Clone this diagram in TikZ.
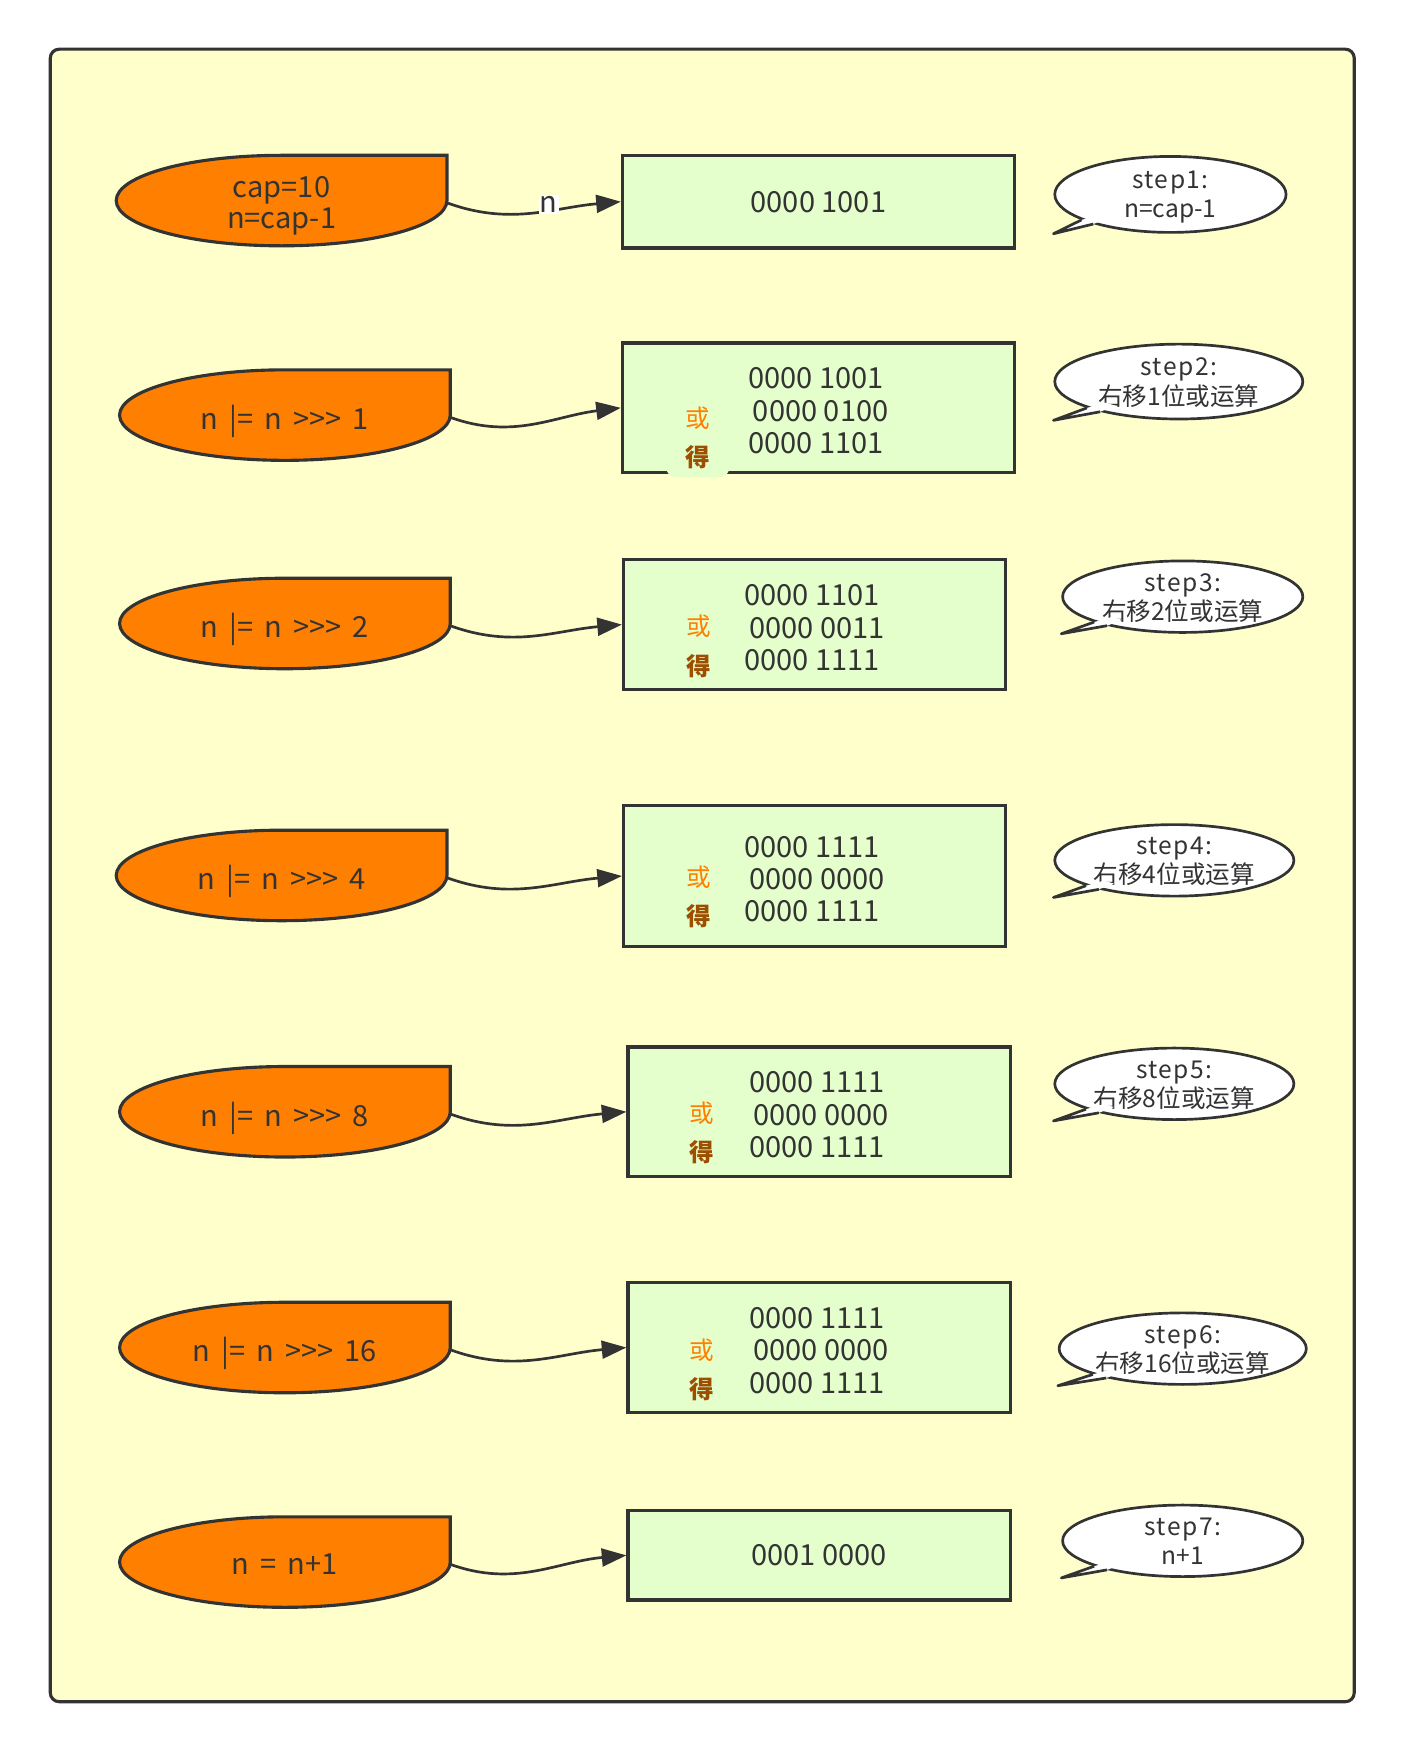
\documentclass[tikz,border=0pt]{standalone}
\usepackage{fontspec}
\setmainfont{Noto Sans CJK SC}
\newfontfamily\opfont{Noto Sans CJK SC}[WordSpace=1.7]
\usetikzlibrary{positioning,calc,arrows.meta,shapes.geometric}

\definecolor{framefill}{HTML}{FFFFCC}
\definecolor{opfill}{HTML}{FF8000}
\definecolor{bitfill}{HTML}{E5FFCC}
\definecolor{linegray}{HTML}{333333}
\definecolor{orcolor}{HTML}{FF8000}
\definecolor{getcolor}{HTML}{9C4F00}

\newcommand{\steptag}[1]{{\addfontfeature{LetterSpace=6}step#1:}}

\begin{document}
\begin{tikzpicture}[
    x=0.5pt, y=0.5pt,
    every node/.style={text=linegray},
    frame/.style={draw=linegray, fill=framefill, line width=1.4pt, rounded corners=4pt},
    opblob/.pic={\draw[draw=linegray, fill=opfill, line width=1.4pt] (148,40.5) -- (148,0) arc[start angle=0, end angle=-180, x radius=74pt, y radius=20.25pt] arc[start angle=180, end angle=90, x radius=74pt, y radius=20.25pt] -- cycle;},
    optext/.style={minimum width=148pt, minimum height=40.5pt, inner sep=0pt, outer sep=0pt, align=center, text depth=0pt, yshift=-1pt, font=\opfont\fontsize{13pt}{14pt}\selectfont},
    bits/.style={rectangle, draw=linegray, fill=bitfill, line width=1.4pt, align=left, inner sep=0pt, text depth=0pt, font=\fontsize{13pt}{14.5pt}\selectfont},
    orsign/.style={text=orcolor, inner sep=0pt, font=\fontsize{11pt}{13pt}\selectfont},
    getsign/.style={text=getcolor, fill=bitfill, rounded corners=4pt, minimum width=28pt, minimum height=18pt, inner sep=0pt, font=\fontsize{11pt}{13pt}\selectfont\bfseries},
    callout/.style={ellipse, draw=linegray, fill=white, line width=1.2pt, inner sep=0pt, minimum width=107.5pt, minimum height=32pt, align=center, text depth=0pt, font=\fontsize{11pt}{13pt}\selectfont},
    tail/.style={draw=linegray, line width=1.2pt, line join=round},
    arrow/.style={-{Triangle[length=11pt, width=8pt]}, line width=1.2pt, draw=linegray},
    lbl/.style={fill=white, inner sep=0.5pt, font=\fontsize{13pt}{14pt}\selectfont},
]
\useasboundingbox (0,0) rectangle (1257,-1568);

% Frame
\draw[frame] (45,-44) rectangle (1212,-1523);

% Operations
\pic at (252,-179.5) {opblob};
\node[optext] (op1) at (252,-179.5) {cap=10\\n=cap-1};
\pic at (255,-371.5) {opblob};
\node[optext] (op2) at (255,-371.5) {n |= n >{}>{}> 1};
\pic at (255,-558) {opblob};
\node[optext] (op3) at (255,-558) {n |= n >{}>{}> 2};
\pic at (252,-783.5) {opblob};
\node[optext] (op4) at (252,-783.5) {n |= n >{}>{}> 4};
\pic at (255,-995) {opblob};
\node[optext] (op5) at (255,-995) {n |= n >{}>{}> 8};
\pic at (255,-1206) {opblob};
\node[optext] (op6) at (255,-1206) {n |= n >{}>{}> 16};
\pic at (255,-1398) {opblob};
\node[optext] (op7) at (255,-1398) {n = n+1};

% Bit values
\node[bits, minimum width=175.5pt, minimum height=41.5pt] (b1) at (732.5,-180.5) {0000 1001};
\node[bits, minimum width=175.5pt, minimum height=58pt] (b2) at (732.5,-365) {\rule{0pt}{12pt}0000 1001\\\hspace{2pt}0000 0100\\0000 1101};
\node[bits, minimum width=171pt, minimum height=58pt] (b3) at (729,-559) {\rule{0pt}{12pt}0000 1101\\\hspace{2pt}0000 0011\\0000 1111};
\node[bits, minimum width=171pt, minimum height=63pt] (b4) at (729,-784) {\rule{0pt}{12pt}0000 1111\\\hspace{2pt}0000 0000\\0000 1111};
\node[bits, minimum width=171pt, minimum height=58pt] (b5) at (733,-995) {\rule{0pt}{12pt}0000 1111\\\hspace{2pt}0000 0000\\0000 1111};
\node[bits, minimum width=171pt, minimum height=58pt] (b6) at (733,-1206) {\rule{0pt}{12pt}0000 1111\\\hspace{2pt}0000 0000\\0000 1111};
\node[bits, minimum width=171pt, minimum height=40pt] (b7) at (733,-1392) {0001 0000};

% Or / result marks
\node[orsign] (or2) at ([xshift=-54pt, yshift=-4.5pt]b2.center) {或};
\node[getsign] (get2) at ([xshift=-54pt, yshift=-22pt]b2.center) {得};
\node[orsign] (or3) at ([xshift=-52pt, yshift=-0.5pt]b3.center) {或};
\node[getsign] (get3) at ([xshift=-52pt, yshift=-18.5pt]b3.center) {得};
\node[orsign] (or4) at ([xshift=-52pt, yshift=-0.5pt]b4.center) {或};
\node[getsign] (get4) at ([xshift=-52pt, yshift=-18pt]b4.center) {得};
\node[orsign] (or5) at ([xshift=-52.5pt, yshift=-0.5pt]b5.center) {或};
\node[getsign] (get5) at ([xshift=-52.5pt, yshift=-18pt]b5.center) {得};
\node[orsign] (or6) at ([xshift=-52.5pt, yshift=-1pt]b6.center) {或};
\node[getsign] (get6) at ([xshift=-52.5pt, yshift=-18.5pt]b6.center) {得};

% Step notes
\node[callout, minimum width=103.5pt, minimum height=34pt] (c1) at (1047.5,-174) {\steptag{1}\\n=cap-1};
\node[callout, minimum width=111pt, minimum height=33.5pt] (c2) at (1055,-341.5) {\steptag{2}\\右移1位或运算};
\node[callout] (c3) at (1058.5,-534) {\steptag{3}\\右移2位或运算};
\node[callout, minimum width=107pt] (c4) at (1051,-770) {\steptag{4}\\右移4位或运算};
\node[callout, minimum width=107pt] (c5) at (1051,-970) {\steptag{5}\\右移8位或运算};
\node[callout] (c6) at (1058.5,-1207) {\steptag{6}\\右移16位或运算};
\node[callout] (c7) at (1058.5,-1379) {\steptag{7}\\n+1};

% Note tails
\fill[white] ($(c1.center)!0.8!(c1.196)$) -- (c1.196) -- (c1.west |- c1.south) -- (c1.201) -- ($(c1.center)!0.8!(c1.201)$) -- cycle;
\draw[tail] (c1.196) -- (c1.west |- c1.south) -- (c1.201);
\fill[white] ($(c2.center)!0.8!(c2.196)$) -- (c2.196) -- (c2.west |- c2.south) -- (c2.201) -- ($(c2.center)!0.8!(c2.201)$) -- cycle;
\draw[tail] (c2.196) -- (c2.west |- c2.south) -- (c2.201);
\fill[white] ($(c3.center)!0.8!(c3.196)$) -- (c3.196) -- (c3.west |- c3.south) -- (c3.201) -- ($(c3.center)!0.8!(c3.201)$) -- cycle;
\draw[tail] (c3.196) -- (c3.west |- c3.south) -- (c3.201);
\fill[white] ($(c4.center)!0.8!(c4.196)$) -- (c4.196) -- (c4.west |- c4.south) -- (c4.201) -- ($(c4.center)!0.8!(c4.201)$) -- cycle;
\draw[tail] (c4.196) -- (c4.west |- c4.south) -- (c4.201);
\fill[white] ($(c5.center)!0.8!(c5.196)$) -- (c5.196) -- (c5.west |- c5.south) -- (c5.201) -- ($(c5.center)!0.8!(c5.201)$) -- cycle;
\draw[tail] (c5.196) -- (c5.west |- c5.south) -- (c5.201);
\fill[white] ($(c6.center)!0.8!(c6.196)$) -- (c6.196) -- (c6.west |- c6.south) -- (c6.201) -- ($(c6.center)!0.8!(c6.201)$) -- cycle;
\draw[tail] (c6.196) -- (c6.west |- c6.south) -- (c6.201);
\fill[white] ($(c7.center)!0.8!(c7.196)$) -- (c7.196) -- (c7.west |- c7.south) -- (c7.201) -- ($(c7.center)!0.8!(c7.201)$) -- cycle;
\draw[tail] (c7.196) -- (c7.west |- c7.south) -- (c7.201);

% Arrows
\draw[arrow] (op1.east) to[out=-20, in=185] node[lbl, pos=0.6, yshift=3pt] (nlbl) {n} (b1.west);
\draw[arrow] (op2.east) to[out=-20, in=187] (b2.west);
\draw[arrow] (op3.east) to[out=-20, in=185] (b3.west);
\draw[arrow] (op4.east) to[out=-20, in=185] (b4.west);
\draw[arrow] (op5.east) to[out=-20, in=185] (b5.west);
\draw[arrow] (op6.east) to[out=-20, in=185] (b6.west);
\draw[arrow] (op7.east) to[out=-20, in=185] (b7.west);

\end{tikzpicture}
\end{document}
